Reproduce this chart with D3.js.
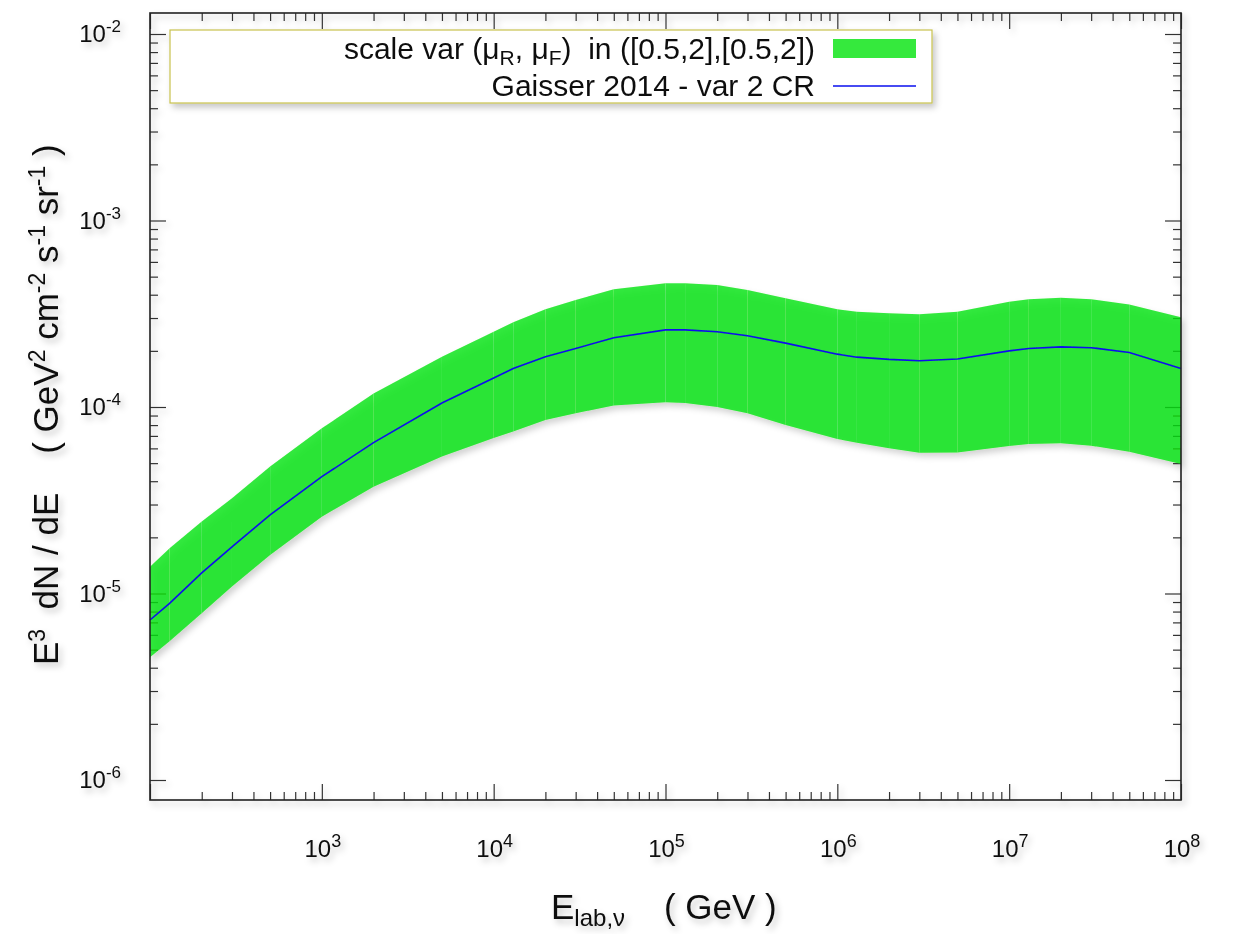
<!DOCTYPE html>
<html>
<head>
<meta charset="utf-8">
<script src="https://cdn.jsdelivr.net/npm/d3@7"></script>
<style>
  html, body { margin: 0; padding: 0; background: #fff; }
  svg { display: block; }
  text { font-family: "Liberation Sans", Arial, Helvetica, sans-serif; fill: #111; white-space: pre; }
</style>
</head>
<body>
<svg id="chart" width="1233" height="934"></svg>
<script>
// Neutrino energy grid (GeV)
const energy = [1e2, 1.3e2, 2e2, 3e2, 5e2, 1e3, 2e3, 5e3,
  1e4, 1.3e4, 2e4, 3e4, 5e4, 1e5, 1.3e5, 2e5, 3e5, 5e5,
  1e6, 1.3e6, 2e6, 3e6, 5e6, 1e7, 1.3e7, 2e7, 3e7, 5e7, 1e8];

// E^3 dN/dE, central prediction (Gaisser 2014 - var 2 CR)
const fluxCentral = [7.21e-6, 8.85e-6, 1.29e-5, 1.78e-5, 2.64e-5, 4.23e-5, 6.44e-5, 1.05e-4,
  1.43e-4, 1.61e-4, 1.86e-4, 2.06e-4, 2.35e-4, 2.59e-4, 2.59e-4, 2.53e-4, 2.41e-4, 2.20e-4,
  1.92e-4, 1.85e-4, 1.80e-4, 1.77e-4, 1.81e-4, 2.00e-4, 2.06e-4, 2.10e-4, 2.08e-4, 1.96e-4, 1.61e-4];

// scale variation envelope, upper edge
const fluxUpper = [1.39e-5, 1.75e-5, 2.43e-5, 3.24e-5, 4.79e-5, 7.69e-5, 1.18e-4, 1.86e-4,
  2.53e-4, 2.85e-4, 3.34e-4, 3.75e-4, 4.28e-4, 4.61e-4, 4.61e-4, 4.51e-4, 4.24e-4, 3.83e-4,
  3.34e-4, 3.24e-4, 3.18e-4, 3.14e-4, 3.24e-4, 3.67e-4, 3.78e-4, 3.85e-4, 3.78e-4, 3.55e-4, 3.03e-4];

// scale variation envelope, lower edge
const fluxLower = [4.55e-6, 5.55e-6, 7.83e-6, 1.09e-5, 1.61e-5, 2.58e-5, 3.74e-5, 5.42e-5,
  6.82e-5, 7.38e-5, 8.51e-5, 9.25e-5, 1.02e-4, 1.06e-4, 1.05e-4, 1.00e-4, 9.25e-5, 8.00e-5,
  6.73e-5, 6.44e-5, 6.01e-5, 5.69e-5, 5.70e-5, 6.18e-5, 6.34e-5, 6.39e-5, 6.20e-5, 5.76e-5, 4.94e-5];

// decade exponents of the labelled ticks
const xTickExponents = [3, 4, 5, 6, 7, 8];
const yTickExponents = [-6, -5, -4, -3, -2];

const legendBandLabel = ["scale var (μ", "R", ", μ", "F", ")  in ([0.5,2],[0.5,2])"];
const legendLineLabel = "Gaisser 2014 - var 2 CR";

// ---- layout ----
const L = 150, R = 1181, T = 13, B = 800;
const yDecade = (780 - 34) / 4;

const svg = d3.select("#chart");
const defs = svg.append("defs");
const shadow = defs.append("filter").attr("id", "soft").attr("x", "-10%").attr("y", "-10%")
  .attr("width", "130%").attr("height", "130%");
shadow.append("feDropShadow").attr("dx", 3).attr("dy", 4).attr("stdDeviation", 3)
  .attr("flood-color", "#000").attr("flood-opacity", 0.22);

const root = svg.append("g").attr("filter", "url(#soft)");

const x = d3.scaleLog().domain([1e2, 1e8]).range([L, R]);
const y = d3.scaleLog()
  .domain([Math.pow(10, -6 - (B - 780) / yDecade), Math.pow(10, -2 + (34 - T) / yDecade)])
  .range([B, T]);

// tick positions: majors at decades, minors at 2..9
function decadeTicks(lo, hi) {
  const major = [], minor = [];
  for (let e = lo; e <= hi; e++) {
    major.push(Math.pow(10, e));
    if (e < hi) for (let m = 2; m <= 9; m++) minor.push(m * Math.pow(10, e));
  }
  return { major, minor };
}
const xt = decadeTicks(2, 8);
const yt = decadeTicks(-6, -2);

const axesG = root.append("g").attr("class", "axes");
function drawAxis(axisFn, scale, vals, size, transform) {
  const g = axesG.append("g").attr("transform", transform)
    .call(axisFn(scale).tickValues(vals).tickSize(size).tickFormat(""));
  g.select(".domain").remove();
  g.selectAll(".tick line").attr("stroke", "#333").attr("stroke-width", 1.2);
}
// bottom & top
drawAxis(d3.axisTop, x, xt.major, 16, `translate(0,${B})`);
drawAxis(d3.axisTop, x, xt.minor, 8, `translate(0,${B})`);
drawAxis(d3.axisBottom, x, xt.major, 16, `translate(0,${T})`);
drawAxis(d3.axisBottom, x, xt.minor, 8, `translate(0,${T})`);
// left & right
drawAxis(d3.axisRight, y, yt.major, 16, `translate(${L},0)`);
drawAxis(d3.axisRight, y, yt.minor, 8, `translate(${L},0)`);
drawAxis(d3.axisLeft, y, yt.major, 16, `translate(${R},0)`);
drawAxis(d3.axisLeft, y, yt.minor, 8, `translate(${R},0)`);

// ---- uncertainty band (drawn segment by segment) ----
const bandG = root.append("g").attr("opacity", 0.8);
for (let i = 0; i < energy.length - 1; i++) {
  const pts = [
    [x(energy[i]), y(fluxUpper[i])],
    [x(energy[i + 1]), y(fluxUpper[i + 1])],
    [x(energy[i + 1]), y(fluxLower[i + 1])],
    [x(energy[i]), y(fluxLower[i])]
  ];
  bandG.append("path").attr("d", d3.line()(pts) + "Z").attr("fill", "#04e40c");
}

// ---- central line ----
const line = d3.line().x((d, i) => x(energy[i])).y(d => y(d));
root.append("path").datum(fluxCentral).attr("d", line)
  .attr("fill", "none").attr("stroke", "#0a10ee").attr("stroke-width", 1.6);

// ---- frame ----
root.append("rect").attr("x", L).attr("y", T).attr("width", R - L).attr("height", B - T)
  .attr("fill", "none").attr("stroke", "#222").attr("stroke-width", 1.6);

// ---- tick labels ----
const xLab = root.append("g");
xTickExponents.forEach(e => {
  const t = xLab.append("text").attr("x", x(Math.pow(10, e)) + 1).attr("y", 857)
    .attr("text-anchor", "middle").style("font-size", "24px");
  t.append("tspan").text("10");
  t.append("tspan").attr("dy", -10).style("font-size", "18px").text(String(e));
});
const yLab = root.append("g");
yTickExponents.forEach(e => {
  const yy = y(Math.pow(10, e));
  const t = yLab.append("text").attr("x", 121).attr("y", yy + 8)
    .attr("text-anchor", "end").style("font-size", "24px");
  t.append("tspan").text("10");
  t.append("tspan").attr("dy", -10).style("font-size", "17px").text(String(e));
});

// ---- axis titles ----
const xt1 = root.append("text").attr("x", 551).attr("y", 919).style("font-size", "35px");
xt1.append("tspan").text("E");
xt1.append("tspan").attr("dy", 7).style("font-size", "24px").text("lab,ν");
xt1.append("tspan").attr("dy", -7).text("    ( GeV )");

const ytl = root.append("text").attr("transform", "translate(58,665) rotate(-90)")
  .style("font-size", "35px");
ytl.append("tspan").text("E");
ytl.append("tspan").attr("dy", -13).style("font-size", "23px").text("3");
ytl.append("tspan").attr("dy", 13).text("  dN / dE    ( GeV");
ytl.append("tspan").attr("dy", -13).style("font-size", "23px").text("2");
ytl.append("tspan").attr("dy", 13).text(" cm");
ytl.append("tspan").attr("dy", -13).style("font-size", "23px").text("-2");
ytl.append("tspan").attr("dy", 13).text(" s");
ytl.append("tspan").attr("dy", -13).style("font-size", "23px").text("-1");
ytl.append("tspan").attr("dy", 13).text(" sr");
ytl.append("tspan").attr("dy", -13).style("font-size", "23px").text("-1");
ytl.append("tspan").attr("dy", 13).text(" )");

// ---- legend ----
const lg = root.append("g");
lg.append("rect").attr("x", 170).attr("y", 30).attr("width", 762).attr("height", 73)
  .attr("fill", "#fff").attr("stroke", "#c8c24e").attr("stroke-width", 1.2);
const l1 = lg.append("text").attr("x", 815).attr("y", 59).attr("text-anchor", "end")
  .style("font-size", "30px");
legendBandLabel.forEach((s, i) => {
  const sp = l1.append("tspan").text(s);
  if (i % 2 === 1) sp.attr("dy", 6).style("font-size", "21px");
  else if (i > 0) sp.attr("dy", -6);
});
lg.append("rect").attr("x", 833).attr("y", 39).attr("width", 83).attr("height", 19)
  .attr("fill", "#04e40c").attr("opacity", 0.8);
lg.append("text").attr("x", 815).attr("y", 96).attr("text-anchor", "end")
  .style("font-size", "30px").text(legendLineLabel);
lg.append("line").attr("x1", 833).attr("x2", 916).attr("y1", 86).attr("y2", 86)
  .attr("stroke", "#0a10ee").attr("stroke-width", 1.6);
</script>
</body>
</html>
